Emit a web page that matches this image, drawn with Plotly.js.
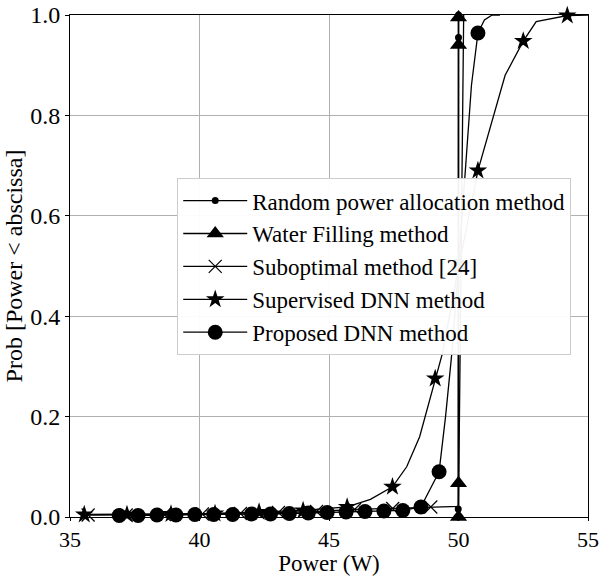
<!DOCTYPE html>
<html>
<head>
<meta charset="utf-8">
<script src="https://cdn.plot.ly/plotly-3.0.1.min.js"></script>
<style>html,body{margin:0;padding:0;background:#fff;}#chart{width:601px;height:576px;}</style>
</head>
<body>
<div id="chart"></div>
<script>
// ---- Data ----
var seriesNames = ["Random power allocation method", "Water Filling method", "Suboptimal method [24]", "Supervised DNN method", "Proposed DNN method"];

// Random power allocation method
var randomCurveX = [49.98, 49.99, 50.0, 50.0];
var randomCurveY = [0.0, 0.016, 0.955, 1.0];
var randomMarkX = [49.98, 49.99, 50.0, 50.0];
var randomMarkY = [0.0, 0.016, 0.955, 1.0];

// Water Filling method
var waterCurveX = [50.0, 50.0, 50.0, 50.0, 50.0];
var waterCurveY = [0.0, 0.067, 0.94, 0.995, 1.0];
var waterMarkX = [50.0, 50.0, 50.0, 50.0];
var waterMarkY = [0.0, 0.067, 0.94, 0.995];

// Suboptimal method [24]
var subCurveX = [35.7, 37.17, 38.64, 40.11, 41.58, 43.05, 44.52, 45.99, 47.46, 48.93, 50.0, 50.2];
var subCurveY = [0.004, 0.004, 0.005, 0.006, 0.007, 0.009, 0.011, 0.015, 0.017, 0.02, 0.021, 1.0];
var subMarkX = [35.7, 37.17, 38.64, 40.11, 41.58, 43.05, 44.52, 45.99, 47.46, 48.93];
var subMarkY = [0.004, 0.004, 0.005, 0.006, 0.007, 0.009, 0.011, 0.015, 0.017, 0.02];

// Supervised DNN method
var supCurveX = [35.55, 37.2, 38.9, 40.6, 42.3, 44.0, 45.7, 46.6, 47.45, 48.0, 48.5, 49.1, 49.4, 49.9, 50.75, 51.8, 52.5, 53.0, 54.2, 55.0];
var supCurveY = [0.005, 0.005, 0.006, 0.007, 0.01, 0.013, 0.02, 0.035, 0.06, 0.1, 0.16, 0.276, 0.33, 0.47, 0.69, 0.88, 0.948, 0.987, 0.999, 1.0];
var supMarkX = [35.55, 37.2, 38.9, 40.6, 42.3, 44.0, 45.7, 47.45, 49.1, 50.75, 52.5, 54.2];
var supMarkY = [0.005, 0.005, 0.006, 0.007, 0.01, 0.013, 0.02, 0.06, 0.276, 0.69, 0.948, 0.999];

// Proposed DNN method
var propCurveX = [36.9, 37.63, 38.36, 39.09, 39.82, 40.55, 41.28, 42.01, 42.74, 43.47, 44.2, 44.93, 45.66, 46.39, 47.12, 47.85, 48.55, 49.1, 49.25, 49.5, 49.75, 50.0, 50.25, 50.5, 50.75, 51.0, 51.3, 51.6];
var propCurveY = [0.003, 0.003, 0.004, 0.004, 0.005, 0.005, 0.005, 0.006, 0.006, 0.007, 0.008, 0.009, 0.01, 0.011, 0.012, 0.013, 0.02, 0.077, 0.09, 0.2, 0.33, 0.5, 0.69, 0.86, 0.964, 0.99, 1.0, 1.0];
var propMarkX = [36.9, 37.63, 38.36, 39.09, 39.82, 40.55, 41.28, 42.01, 42.74, 43.47, 44.2, 44.93, 45.66, 46.39, 47.12, 47.85, 48.55, 49.25, 50.0, 50.75];
var propMarkY = [0.003, 0.003, 0.004, 0.004, 0.005, 0.005, 0.005, 0.006, 0.006, 0.007, 0.008, 0.009, 0.01, 0.011, 0.012, 0.013, 0.02, 0.09, 0.5, 0.964];

var xTicks = [35, 40, 45, 50, 55];
var yTicks = [0.0, 0.2, 0.4, 0.6, 0.8, 1.0];

// ---- Styles ----
var styles = [
  {symbol: "circle", size: 7, lw: 1.3},
  {symbol: "triangle-up", size: 15, lw: 1.6},
  {symbol: "x-thin", size: 13, lw: 1.3},
  {symbol: "star", size: 14, lw: 1.3},
  {symbol: "circle", size: 15, lw: 1.3}
];
var curves = [
  [randomCurveX, randomCurveY, randomMarkX, randomMarkY],
  [waterCurveX, waterCurveY, waterMarkX, waterMarkY],
  [subCurveX, subCurveY, subMarkX, subMarkY],
  [supCurveX, supCurveY, supMarkX, supMarkY],
  [propCurveX, propCurveY, propMarkX, propMarkY]
];

function markerFor(s) {
  var m = {symbol: s.symbol, size: s.size, color: "black"};
  if (s.symbol === "x-thin") m.line = {width: 1.2, color: "black"};
  else m.line = {width: 0};
  return m;
}

var traces = [];
curves.forEach(function (c, i) {
  var s = styles[i];
  traces.push({x: c[0], y: c[1], type: "scatter", mode: "lines", line: {color: "black", width: s.lw},
    showlegend: false, hoverinfo: "skip"});
  traces.push({x: c[2], y: c[3], type: "scatter", mode: "markers", marker: markerFor(s),
    showlegend: false, cliponaxis: false});
});
curves.forEach(function (c, i) {
  var s = styles[i];
  traces.push({x: [null], y: [null], type: "scatter", mode: "lines+markers", name: seriesNames[i],
    line: {color: "black", width: 1.3}, marker: markerFor(s), showlegend: true});
});

var FAM = "Liberation Serif";

var layout = {
  width: 601, height: 576,
  margin: {l: 70, r: 13, t: 15, b: 59, pad: 0},
  paper_bgcolor: "white", plot_bgcolor: "white",
  font: {family: FAM, color: "black", size: 23},
  showlegend: true,
  xaxis: {
    range: [35, 55], tickvals: xTicks, ticktext: xTicks.map(String),
    showgrid: true, gridcolor: "#b0b0b0", gridwidth: 1,
    zeroline: false, showline: true, linecolor: "black", linewidth: 1, mirror: true,
    ticks: "outside", ticklen: 3, tickcolor: "black", tickwidth: 1,
    tickfont: {family: FAM, size: 22, color: "black"},
    title: {text: "Power (W)", font: {family: FAM, size: 23, color: "black"}, standoff: 4}
  },
  yaxis: {
    range: [0, 1], tickvals: yTicks, ticktext: yTicks.map(function (v) { return v.toFixed(1); }),
    showgrid: true, gridcolor: "#b0b0b0", gridwidth: 1,
    zeroline: false, showline: true, linecolor: "black", linewidth: 1, mirror: true,
    ticks: "outside", ticklen: 4, tickcolor: "black", tickwidth: 1,
    tickfont: {family: FAM, size: 24, color: "black"},
    title: {text: "Prob [Power &lt; abscissa]", font: {family: FAM, size: 24, color: "black"}, standoff: 0}
  },
  legend: {
    x: 0.207, y: 0.675, xanchor: "left", yanchor: "top",
    bgcolor: "rgba(255,255,255,0.95)", bordercolor: "#cccccc", borderwidth: 1,
    font: {family: FAM, size: 23, color: "black"},
    tracegroupgap: 0, itemwidth: 64
  }
};

Plotly.newPlot("chart", traces, layout, {displayModeBar: false, staticPlot: true});
</script>
</body>
</html>
